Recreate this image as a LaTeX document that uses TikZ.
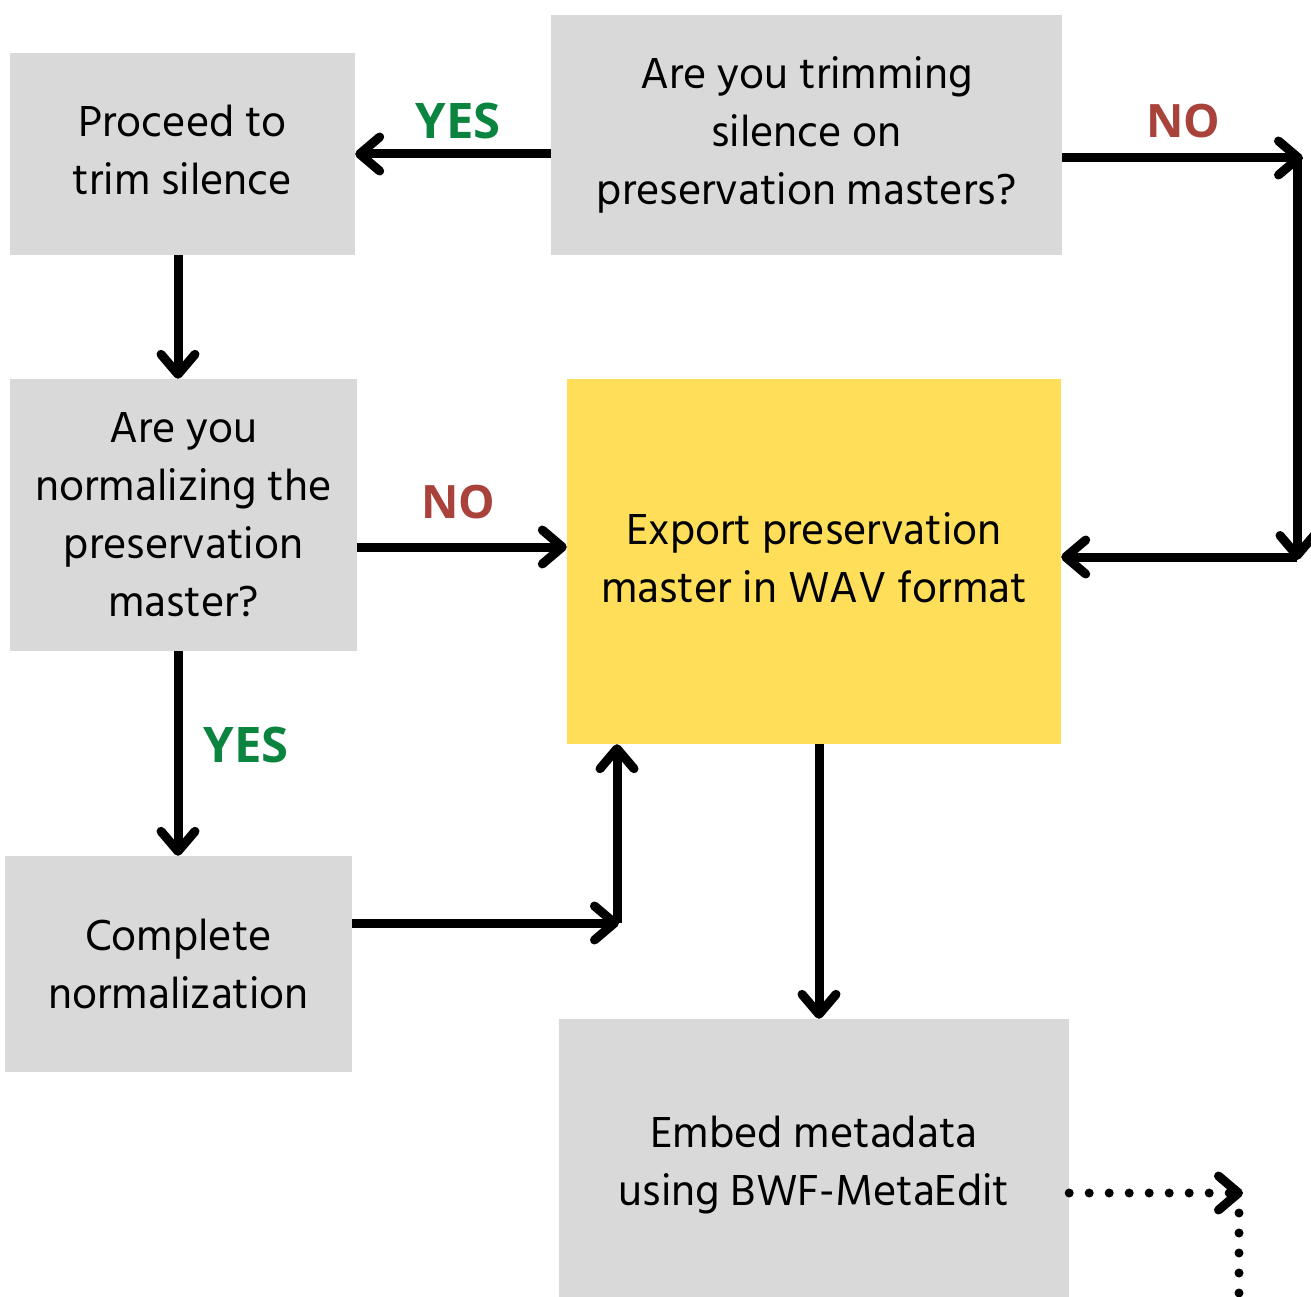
\documentclass[tikz,border=0pt]{standalone}
\usepackage{fontspec}
\setmainfont{Hind Madurai}
\newfontfamily\labfont{Open Sans}
\usetikzlibrary{arrows.meta}
\definecolor{boxgray}{HTML}{D9D9D9}
\definecolor{boxyellow}{HTML}{FFDE59}
\definecolor{yesgreen}{HTML}{0B843F}
\definecolor{nored}{HTML}{A8423A}
\tikzset{
  box/.style={fill=boxgray, draw=none, inner sep=0pt, align=center,
    font=\fontsize{44.5}{58}\selectfont},
  ybox/.style={box, fill=boxyellow},
  arr/.style={line width=9pt, -{Straight Barb[length=20pt,width=34pt,round]}},
  dotarr/.style={arr, line cap=round, dash pattern=on 0pt off 20pt},
  dotline/.style={line width=9pt, line cap=round, dash pattern=on 0pt off 20pt},
  yeslab/.style={text=yesgreen, inner sep=0pt, font=\labfont\bfseries\fontsize{49}{52}\selectfont},
  nolab/.style={text=nored, inner sep=0pt, font=\labfont\bfseries\fontsize{46}{50}\selectfont},
}
\begin{document}
\begin{tikzpicture}[x=1pt,y=-1pt]
\useasboundingbox (0,0) rectangle (1311,1297);
\fill[white] (0,0) rectangle (1311,1297);
\node[box, minimum width=345pt, minimum height=202pt] (A) at (182.5,154) {\raisebox{5pt}{\begin{tabular}{@{}c@{}}Proceed to\\trim silence\end{tabular}}};
\node[box, minimum width=511pt, minimum height=240pt] (B) at (806.5,135) {Are you trimming\\silence on\\preservation masters?};
\node[box, minimum width=347pt, minimum height=272pt] (C) at (183.5,515) {Are you\\normalizing the\\preservation\\master?};
\node[ybox, minimum width=494pt, minimum height=365pt] (D) at (814,561.5) {\raisebox{4pt}{\begin{tabular}{@{}c@{}}Export preservation\\master in WAV format\end{tabular}}};
\node[box, minimum width=347pt, minimum height=216pt] (E) at (178.5,964) {Complete\\normalization};
\node[box, minimum width=510pt, minimum height=284pt] (F) at (814,1161) {\raisebox{-4pt}[\height][\depth]{\begin{tabular}{@{}c@{}}Embed metadata\\using BWF-MetaEdit\end{tabular}}};
% helper coordinates
\coordinate (ac) at (178,0);
\coordinate (r1) at (1303,158);
\coordinate (r2) at (1297,158);
\coordinate (r3) at (1297,560);
\coordinate (r4) at (1297,557);
\coordinate (cd) at (0,547);
\coordinate (ed) at (619,923);
\coordinate (eu) at (617,923);
\coordinate (df) at (819,0);
\coordinate (fd) at (1243,1193);
\coordinate (fv) at (1239,1213);
\coordinate (fb) at (1239,1310);
% connectors
\draw[arr] (B.west |- A.east) -- (A.east);
\node[yeslab] (y1) at (458,121) {YES};
\draw[arr] (B.east |- r1) -- (r1);
\draw[arr] (r2) -- (r3);
\draw[arr] (r4) -- (D.east |- r4);
\node[nolab] (n1) at (1183,121) {NO};
\draw[arr] (A.south -| ac) -- (C.north -| ac);
\draw[arr] (C.east |- cd) -- (D.west |- cd);
\node[nolab] (n2) at (458,502) {NO};
\draw[arr] (C.south -| ac) -- (E.north -| ac);
\node[yeslab] (y2) at (246,745) {YES};
\draw[arr] (E.east |- ed) -- (ed);
\draw[arr] (eu) -- (D.south -| eu);
\draw[arr] (D.south -| df) -- (F.north -| df);
\draw[dotarr] (F.east |- fd) -- (fd);
\draw[dotline] (fv) -- (fb);
\end{tikzpicture}
\end{document}
